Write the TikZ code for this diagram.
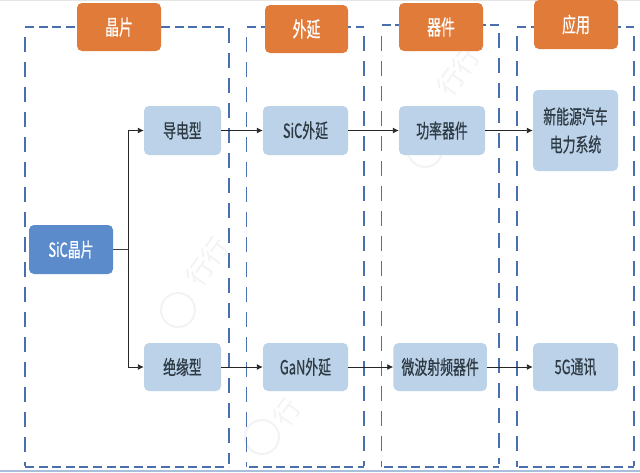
\documentclass[tikz,border=0pt]{standalone}
\usepackage{fontspec}
\setmainfont{Noto Sans CJK SC}[FakeStretch=0.66,FakeBold=0.6]
\newfontfamily\markfont{Noto Sans CJK SC}
\usetikzlibrary{arrows.meta}
\definecolor{orangebox}{HTML}{E07B39}
\definecolor{lightbox}{HTML}{BCD2E8}
\definecolor{bluebox}{HTML}{5B8BCB}
\definecolor{dashblue}{HTML}{4A6FAE}
\definecolor{edgeline}{HTML}{A9BEDB}
\definecolor{inktext}{HTML}{2E3A44}
\definecolor{faintmark}{HTML}{F3F3F3}
\tikzset{
 x=1pt,y=-1pt,
 head/.style={draw=none,fill=orangebox,rounded corners=5pt,text=white,font=\fontsize{21}{24}\selectfont,inner sep=0pt,align=center},
 item/.style={draw=none,fill=lightbox,rounded corners=5pt,text=inktext,font=\fontsize{19.5}{28}\selectfont,inner sep=0pt,align=center},
 root/.style={draw=none,fill=bluebox,rounded corners=5pt,text=white,font=\fontsize{19.5}{23}\selectfont,inner sep=0pt,align=center},
 zoneh/.style={draw=dashblue,line width=2.6pt,dash pattern=on 9pt off 4.6pt},
 zonev/.style={draw=dashblue,line width=1.8pt,dash pattern=on 15pt off 10pt},
 link/.style={draw=black!85,line width=0.9pt,-{Latex[length=6pt,width=6pt]}},
 stem/.style={draw=black!75,line width=1.2pt},
 wmtext/.style={text=faintmark,font=\markfont\fontsize{26}{28}\selectfont,inner sep=0pt},
 wmring/.style={draw=faintmark,line width=2pt},
}
\newcommand{\boxat}[7]{\node[#1,minimum width=#4pt,minimum height=#5pt] (#2) at (#6,#7) {#3};}
\begin{document}
\begin{tikzpicture}
\useasboundingbox (0,0) rectangle (640,472);
\fill[white] (0,0) rectangle (640,472);
% watermarks
\draw[wmring] (178,310) circle (17pt);
\node[wmtext,rotate=55] at (207,262) {行行};
\draw[wmring] (262,437) circle (17pt);
\node[wmtext,rotate=55] at (287,412) {行};
\draw[wmring] (425,150) circle (17pt);
\node[wmtext,rotate=55] at (458,72) {行行};
\fill[black!10] (0,0) rectangle (640,1);
\fill[edgeline] (0,470) rectangle (640,472);
% dashed zones
\draw[zoneh] (25,467) -- (229,467);
\draw[zoneh] (25,27) -- (225,27);
\draw[zonev] (24.7,37) -- (24.7,466);
\draw[zonev] (228.7,28) -- (228.7,464);
\draw[zoneh] (249,467) -- (364,467);
\draw[zoneh] (247,27) -- (364,27);
\draw[zonev] (246.5,37) -- (246.5,467);
\draw[zonev] (363.7,36) -- (363.7,466);
\draw[zoneh] (384,467) -- (499,467);
\draw[zoneh] (381.5,25) -- (499,25);
\draw[zonev] (381.5,36) -- (381.5,467);
\draw[zonev] (499,33) -- (499,464);
\draw[zoneh] (519,467) -- (634,467);
\draw[zoneh] (517,27) -- (634,27);
\draw[zonev] (517,36) -- (517,467);
\draw[zonev] (634,36) -- (634,466);
% headers
\boxat{head}{h1}{晶片}{84}{48}{119}{27}
\boxat{head}{h2}{外延}{83}{48}{306.5}{29}
\boxat{head}{h3}{器件}{84}{48}{441}{27}
\boxat{head}{h4}{应用}{84}{49}{576}{24.5}
% items
\boxat{root}{sic}{SiC晶片}{84}{49}{71}{249.5}
\boxat{item}{a1}{导电型}{77}{49}{182.5}{130.5}
\boxat{item}{a2}{绝缘型}{77}{48}{182.5}{367}
\boxat{item}{b1}{SiC外延}{85}{49}{305.5}{130.5}
\boxat{item}{b2}{GaN外延}{85}{48}{305.5}{367}
\boxat{item}{c1}{功率器件}{86}{49}{442}{130.5}
\boxat{item}{c2}{微波射频器件}{93.5}{48}{440.2}{367}
\boxat{item}{d1}{新能源汽车\\电力系统}{85}{81}{575.5}{130.5}
\boxat{item}{d2}{5G通讯}{85}{48}{575.5}{367}
% connectors
\coordinate (fork) at (128,249.5);
\draw[stem] (sic.east) -- (fork);
\draw[link] (fork) |- (a1.west);
\draw[link] (fork) |- (a2.west);
\draw[link] (a1) -- (b1);
\draw[link] (b1) -- (c1);
\draw[link] (c1) -- (d1);
\draw[link] (a2) -- (b2);
\draw[link] (b2) -- (c2);
\draw[link] (c2) -- (d2);
\end{tikzpicture}
\end{document}
